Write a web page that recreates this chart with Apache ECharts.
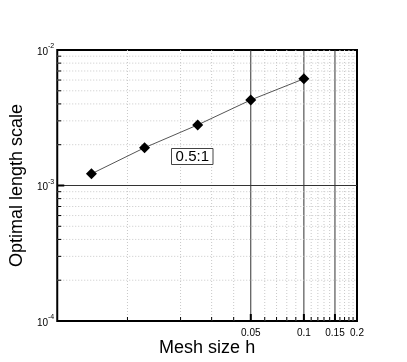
<!DOCTYPE html>
<html>
<head>
<meta charset="utf-8">
<script src="https://cdn.jsdelivr.net/npm/echarts@6/dist/echarts.min.js"></script>
<style>
html,body{margin:0;padding:0;background:#fff;}
#chart{width:407px;height:362px;}
</style>
</head>
<body>
<div id="chart"></div>
<script>
const meshSize = [0.00625, 0.0125, 0.025, 0.05, 0.1];
const lengthScale = [0.00122, 0.0019, 0.0028, 0.00428, 0.00613];
const xMajorTicks = [0.05, 0.1, 0.15, 0.2];
const xMajorLabels = ['0.05', '0.1', '0.15', '0.2'];
const xMinorTicks = [0.01, 0.02, 0.03, 0.04, 0.06, 0.07, 0.08, 0.09, 0.11, 0.12, 0.13, 0.14, 0.16, 0.17, 0.18, 0.19];
const yMajorTicks = [1e-4, 1e-3, 1e-2];
const yMinorTicks = [2e-4, 3e-4, 4e-4, 5e-4, 6e-4, 7e-4, 8e-4, 9e-4, 2e-3, 3e-3, 4e-3, 5e-3, 6e-3, 7e-3, 8e-3, 9e-3];
const xRange = [0.004, 0.2];
const yRange = [1e-4, 1e-2];
const ratioLabel = '0.5:1';
const xTitle = 'Mesh size h';
const yTitle = 'Optimal length scale';

const FONT = '"Liberation Sans", Arial, Helvetica, sans-serif';

const chart = echarts.init(document.getElementById('chart'), null, {renderer: 'canvas'});

function xRenderer(major) {
  return function (params, api) {
    const v = api.value(0);
    const b = api.coord([v, yRange[0]]);
    const t = api.coord([v, yRange[1]]);
    const children = [];
    const isBorder = Math.abs(v - xRange[1]) < 1e-12;
    if (!isBorder) {
      children.push({
        type: 'line',
        shape: {x1: b[0], y1: b[1], x2: t[0], y2: t[1]},
        style: major ? {stroke: '#333', lineWidth: 1} : {stroke: '#c8c8c8', lineWidth: 1, lineDash: [1, 2]}
      });
    }
    children.push({
      type: 'line',
      shape: {x1: b[0], y1: b[1], x2: b[0], y2: b[1] - (major ? 7 : 4)},
      style: {stroke: '#000', lineWidth: major ? 2 : 1}
    });
    if (major) {
      children.push({
        type: 'text',
        x: b[0], y: b[1] + 7,
        style: {text: xMajorLabels[params.dataIndex], fontSize: 10, fontFamily: FONT, fill: '#000', align: 'center', verticalAlign: 'top'}
      });
    }
    return {type: 'group', children: children};
  };
}

function yRenderer(major) {
  return function (params, api) {
    const v = api.value(1);
    const l = api.coord([xRange[0], v]);
    const r = api.coord([xRange[1], v]);
    const children = [];
    const isBorder = Math.abs(Math.log10(v) - Math.log10(yRange[0])) < 1e-9 || Math.abs(Math.log10(v) - Math.log10(yRange[1])) < 1e-9;
    if (!isBorder) {
      children.push({
        type: 'line',
        shape: {x1: l[0], y1: l[1], x2: r[0], y2: r[1]},
        style: major ? {stroke: '#333', lineWidth: 1} : {stroke: '#c8c8c8', lineWidth: 1, lineDash: [1, 2]}
      });
    }
    children.push({
      type: 'line',
      shape: {x1: l[0], y1: l[1], x2: l[0] + (major ? 7 : 4), y2: l[1]},
      style: {stroke: '#000', lineWidth: major ? 2 : 1}
    });
    return {type: 'group', children: children};
  };
}

const option = {
  animation: false,
  grid: {left: 53, right: 50, top: 50, bottom: 41, show: true, borderColor: '#000', borderWidth: 2, backgroundColor: 'transparent'},
  xAxis: {
    type: 'log', logBase: 10, min: xRange[0], max: xRange[1],
    name: xTitle, nameLocation: 'middle', nameGap: 18,
    nameTextStyle: {fontSize: 18, fontFamily: FONT, color: '#000', verticalAlign: 'top'},
    axisLine: {show: false}, axisTick: {show: false}, axisLabel: {show: false}, splitLine: {show: false}
  },
  yAxis: {
    type: 'log', logBase: 10, min: yRange[0], max: yRange[1],
    name: yTitle, nameLocation: 'middle', nameGap: 28,
    nameTextStyle: {fontSize: 18, fontFamily: FONT, color: '#000'},
    axisLine: {show: false}, axisTick: {show: false}, splitLine: {show: false},
    axisLabel: {
      show: true, margin: 3,
      formatter: function (v) {
        const e = Math.round(Math.log10(v));
        return '{a|10}{b|' + e + '}';
      },
      rich: {
        a: {fontSize: 10, fontFamily: FONT, color: '#000', lineHeight: 14, verticalAlign: 'bottom'},
        b: {fontSize: 7, fontFamily: FONT, color: '#000', lineHeight: 14, verticalAlign: 'top'}
      }
    }
  },
  series: [
    {type: 'custom', silent: true, z: 1, renderItem: xRenderer(false), data: xMinorTicks.map(v => [v, yRange[0]])},
    {type: 'custom', silent: true, z: 1, renderItem: xRenderer(true), data: xMajorTicks.map(v => [v, yRange[0]])},
    {type: 'custom', silent: true, z: 1, renderItem: yRenderer(false), data: yMinorTicks.map(v => [xRange[0], v])},
    {type: 'custom', silent: true, z: 1, renderItem: yRenderer(true), data: yMajorTicks.map(v => [xRange[0], v])},
    {
      type: 'line', z: 5,
      data: meshSize.map((x, i) => [x, lengthScale[i]]),
      symbol: 'diamond', symbolSize: 11,
      itemStyle: {color: '#000'},
      lineStyle: {color: '#555', width: 1}
    }
  ],
  graphic: [
    {type: 'rect', shape: {x: 171.5, y: 148.5, width: 41.5, height: 16}, style: {fill: '#fff', stroke: '#444', lineWidth: 1}, z: 10},
    {type: 'text', x: 192.3, y: 157, style: {text: ratioLabel, fontSize: 15, fontFamily: FONT, fill: '#000', align: 'center', verticalAlign: 'middle'}, z: 11}
  ]
};
chart.setOption(option);
</script>
</body>
</html>
